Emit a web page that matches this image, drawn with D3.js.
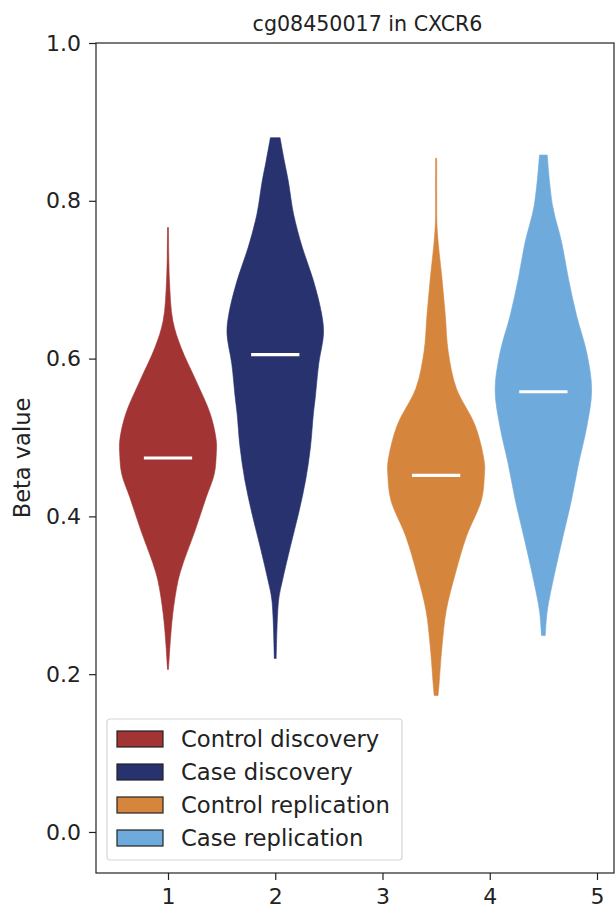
<!DOCTYPE html>
<html>
<head>
<meta charset="utf-8">
<script src="https://cdn.jsdelivr.net/npm/d3@7"></script>
<style>
  html, body { margin: 0; padding: 0; background: #fff; }
  svg text { font-family: "DejaVu Sans", sans-serif; fill: #222; }
</style>
</head>
<body>
<svg id="chart" width="616" height="908"></svg>
<script>
// ---- data ----
const groups = ['Control discovery', 'Case discovery', 'Control replication', 'Case replication'];
const positions = [1, 2, 3.5, 4.5];
const colors = ['#a33434', '#27326f', '#d6853c', '#6eaadc'];
const medians = [0.474, 0.605, 0.452, 0.558];

// violin profiles: beta value levels and relative half-width (1 = widest)
const ctrlDiscLevels = [0.206, 0.235, 0.277, 0.319, 0.340, 0.382, 0.424, 0.454, 0.479, 0.496, 0.530, 0.572, 0.614, 0.648, 0.699, 0.766];
const ctrlDiscWidth  = [0.01, 0.04, 0.10, 0.21, 0.31, 0.56, 0.79, 0.96, 1.0, 1.0, 0.875, 0.58, 0.27, 0.10, 0.03, 0.01];

const caseDiscLevels = [0.220, 0.294, 0.319, 0.361, 0.403, 0.446, 0.488, 0.530, 0.551, 0.593, 0.632, 0.657, 0.699, 0.741, 0.783, 0.825, 0.850, 0.880];
const caseDiscWidth  = [0.02, 0.07, 0.15, 0.31, 0.48, 0.63, 0.73, 0.79, 0.83, 0.90, 1.0, 0.96, 0.79, 0.56, 0.38, 0.27, 0.19, 0.10];

const ctrlRepLevels = [0.173, 0.187, 0.234, 0.281, 0.328, 0.375, 0.421, 0.452, 0.468, 0.515, 0.562, 0.609, 0.655, 0.702, 0.749, 0.773, 0.810, 0.854];
const ctrlRepWidth  = [0.04, 0.06, 0.12, 0.21, 0.40, 0.63, 0.94, 1.0, 1.0, 0.81, 0.42, 0.25, 0.19, 0.12, 0.04, 0.015, 0.012, 0.01];

const caseRepLevels = [0.249, 0.280, 0.327, 0.373, 0.420, 0.467, 0.514, 0.560, 0.607, 0.654, 0.701, 0.747, 0.794, 0.858];
const caseRepWidth  = [0.04, 0.08, 0.23, 0.40, 0.58, 0.73, 0.90, 1.0, 0.90, 0.69, 0.52, 0.38, 0.19, 0.08];

const profiles = [
  [ctrlDiscLevels, ctrlDiscWidth],
  [caseDiscLevels, caseDiscWidth],
  [ctrlRepLevels, ctrlRepWidth],
  [caseRepLevels, caseRepWidth]
];

const xTicks = [1, 2, 3, 4, 5];
const yTicks = [0.0, 0.2, 0.4, 0.6, 0.8, 1.0];

// ---- layout ----
const margin = { left: 96, top: 43, right: 616 - 614, bottom: 908 - 873 };
const W = 616, H = 908;
const halfMax = 0.45;     // half of violin width in x units
const medHalf = 0.225;

const svg = d3.select('#chart');

const x = d3.scaleLinear().domain([0.3287, 5.1585]).range([margin.left, W - margin.right]);
const y = d3.scaleLinear().domain([-0.052, 1.0]).range([H - margin.bottom, margin.top]);

// violins
const area = d3.area()
  .curve(d3.curveCatmullRom.alpha(0.5))
  .y(d => y(d.v))
  .x0(d => x(d.p - d.w * halfMax))
  .x1(d => x(d.p + d.w * halfMax));

profiles.forEach(([levels, widths], i) => {
  const pts = levels.map((v, k) => ({ v, w: widths[k], p: positions[i] }));
  svg.append('path')
    .attr('d', area(pts))
    .attr('fill', colors[i])
    .attr('stroke', colors[i])
    .attr('stroke-width', 0.6);

  svg.append('line')
    .attr('x1', x(positions[i] - medHalf))
    .attr('x2', x(positions[i] + medHalf))
    .attr('y1', y(medians[i]))
    .attr('y2', y(medians[i]))
    .attr('stroke', '#fff')
    .attr('stroke-width', 3.2);
});

// axes
const yAxis = svg.append('g')
  .attr('transform', `translate(${margin.left},0)`)
  .call(d3.axisLeft(y).tickValues(yTicks).tickFormat(d3.format('.1f')).tickSize(7).tickPadding(8));
const xAxis = svg.append('g')
  .attr('transform', `translate(0,${H - margin.bottom})`)
  .call(d3.axisBottom(x).tickValues(xTicks).tickFormat(d3.format('d')).tickSize(7).tickPadding(8));

[yAxis, xAxis].forEach(g => {
  g.select('.domain').remove();
  g.selectAll('line').attr('stroke', '#222').attr('stroke-width', 1.2);
  g.selectAll('text').attr('font-size', 22).attr('fill', '#222');
});

// frame
svg.append('rect')
  .attr('x', margin.left)
  .attr('y', margin.top)
  .attr('width', W - margin.right - margin.left)
  .attr('height', H - margin.bottom - margin.top)
  .attr('fill', 'none')
  .attr('stroke', '#222')
  .attr('stroke-width', 1.2);

// title + y label
svg.append('text')
  .attr('x', 367.5)
  .attr('y', 31)
  .attr('text-anchor', 'middle')
  .attr('font-size', 20.6)
  .text('cg08450017 in CXCR6');

svg.append('text')
  .attr('transform', `translate(30,${(margin.top + H - margin.bottom) / 2}) rotate(-90)`)
  .attr('text-anchor', 'middle')
  .attr('font-size', 22.5)
  .text('Beta value');

// legend
const legend = svg.append('g').attr('transform', 'translate(107,719)');
legend.append('rect')
  .attr('width', 295)
  .attr('height', 141)
  .attr('rx', 3)
  .attr('fill', '#fff')
  .attr('fill-opacity', 0.8)
  .attr('stroke', '#d5d5d5')
  .attr('stroke-width', 1.2);

const entry = legend.selectAll('.entry')
  .data(groups)
  .enter()
  .append('g')
  .attr('transform', (d, i) => `translate(10,${20 + i * 33})`);

entry.append('rect')
  .attr('x', 0)
  .attr('y', -8)
  .attr('width', 46)
  .attr('height', 16)
  .attr('fill', (d, i) => colors[i])
  .attr('stroke', '#222')
  .attr('stroke-width', 1.2);

entry.append('text')
  .attr('x', 64)
  .attr('y', 8)
  .attr('font-size', 22.7)
  .text(d => d);
</script>
</body>
</html>
